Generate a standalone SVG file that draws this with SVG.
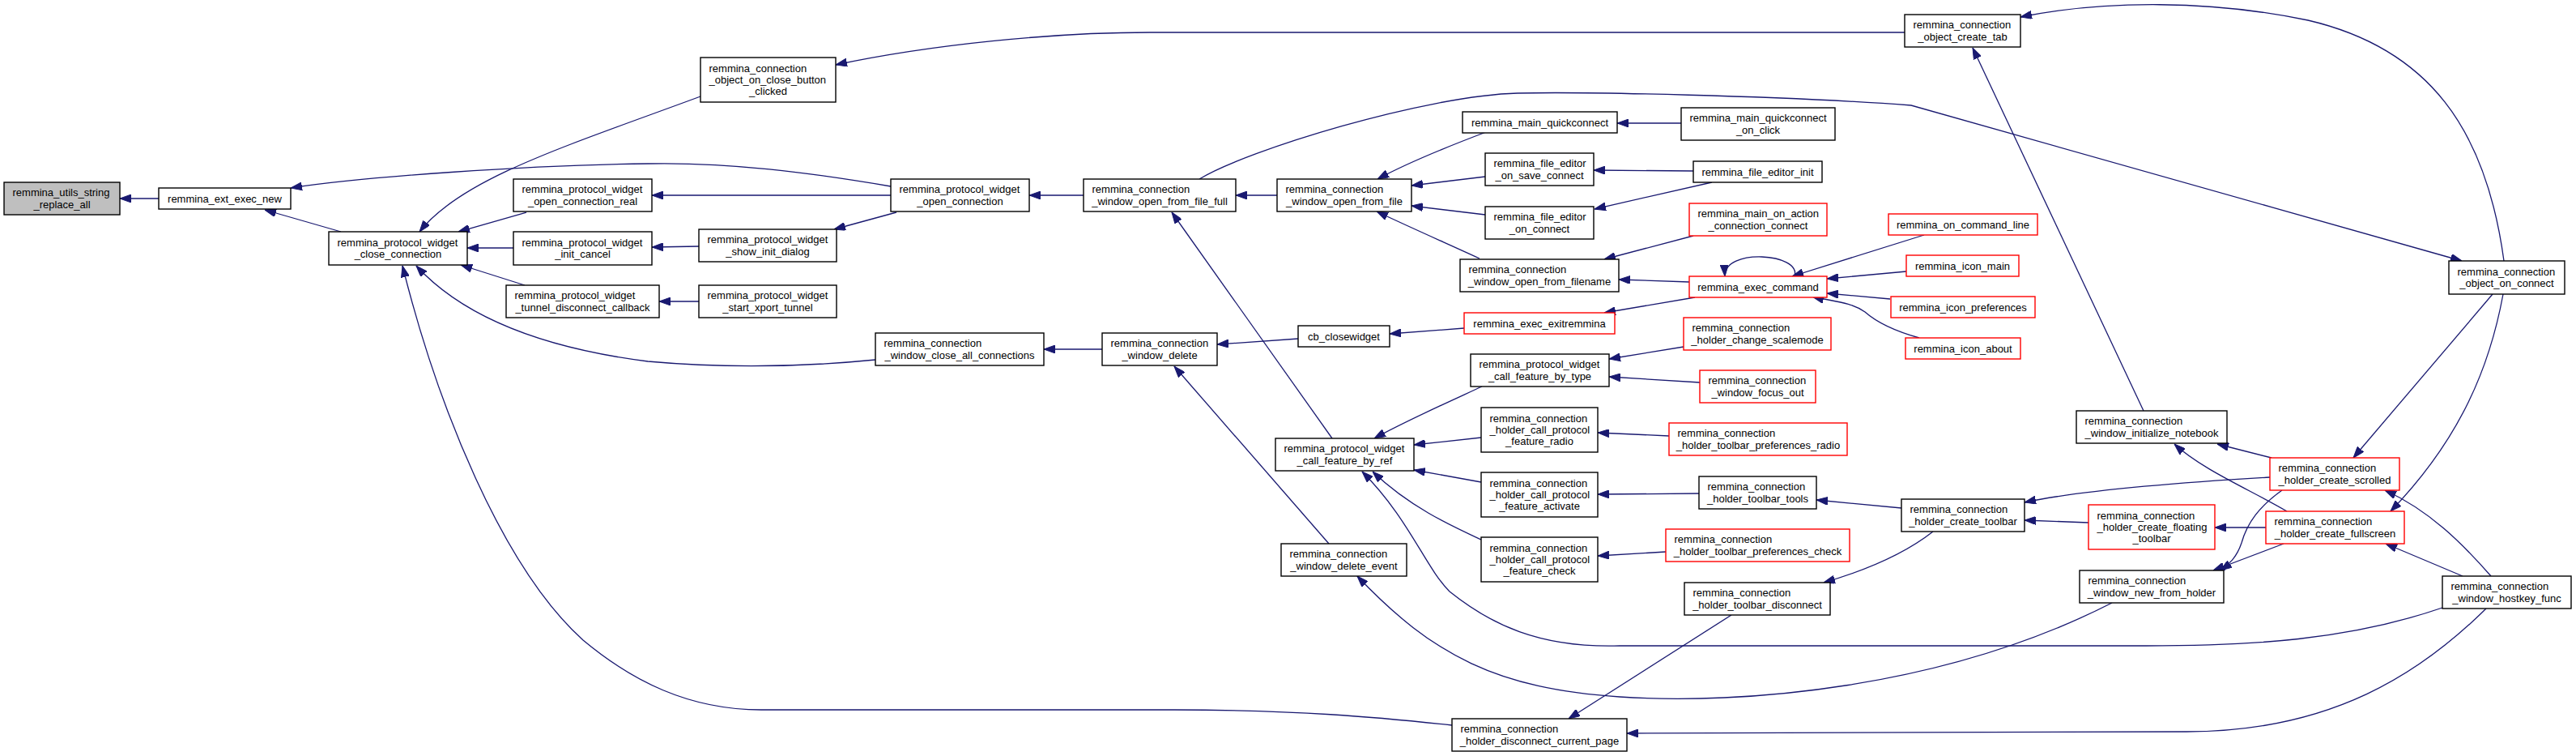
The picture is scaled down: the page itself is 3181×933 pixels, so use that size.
<svg xmlns="http://www.w3.org/2000/svg" width="3181" height="933" viewBox="0 0 3181 933">
<style>
rect{fill:#fff;stroke:#000;stroke-width:1.4}
rect.r{stroke:#ff0000}
rect.g{fill:#bfbfbf}
text{font-family:"Liberation Sans",Arial,sans-serif;font-size:13px;fill:#000}
text.c{text-anchor:middle}
.e path{fill:none;stroke:#191970;stroke-width:1.3;marker-end:url(#a)}
</style>
<defs>
<marker id="a" viewBox="0 0 14 10" refX="14" refY="5" markerWidth="14" markerHeight="10" markerUnits="userSpaceOnUse" orient="auto">
<path d="M0,0 L14,5 L0,10 z" fill="#191970" stroke="#191970" stroke-width="1"/>
</marker>
</defs>
<rect x="0" y="0" width="3181" height="933" style="fill:#fff;stroke:none"/>
<g class="e" id="edges">
<path d="M196,245 L148,245"/>
<path d="M421,286 L327,259"/>
<path d="M1100,230 C1000,213 900,200 800,202 C650,204 450,218 359,232"/>
<path d="M650,262 L566,286"/>
<path d="M634,306 L577,306"/>
<path d="M648,352 L569,327"/>
<path d="M865,119 C700,180 570,220 518,286"/>
<path d="M1081,444 C1000,452 900,455 800,446 C690,432 580,400 514,328"/>
<path d="M1793,895 C1700,885 1600,876 1450,876 L940,876 C850,876 780,840 720,790 C620,700 540,500 497,328"/>
<path d="M1100,241 L805,241"/>
<path d="M863,304 L805,305"/>
<path d="M1107,262 L1030,283"/>
<path d="M863,372 L814,372"/>
<path d="M1338,241 L1271,241"/>
<path d="M2352,40 L1420,40 C1300,40 1150,55 1032,80"/>
<path d="M1577,241 L1526,241"/>
<path d="M1481,221 C1540,185 1760,118 1874,115 C1950,113 2200,118 2360,130 L3040,322"/>
<path d="M1835,163 C1790,180 1740,200 1701,221"/>
<path d="M1834,218 L1743,229"/>
<path d="M1834,265 L1743,254"/>
<path d="M1827,319 C1790,302 1740,280 1700,261"/>
<path d="M2076,152 L1997,152"/>
<path d="M2091,211 L1968,210"/>
<path d="M2114,225 L1969,258"/>
<path d="M2091,291 L1981,320"/>
<path d="M2086,348 L1999,345"/>
<path d="M2216,341 C2225,312 2128,306 2130,341"/>
<path d="M2093,367 L1981,386"/>
<path d="M2376,290 L2213,341"/>
<path d="M2354,335 L2256,344"/>
<path d="M2334,369 L2256,362"/>
<path d="M2370,417 C2345,410 2320,400 2303,385 C2285,372 2262,372 2238,366"/>
<path d="M1808,405 L1716,412"/>
<path d="M1603,418 L1503,425"/>
<path d="M1361,431 L1289,431"/>
<path d="M1641,671 L1450,452"/>
<path d="M1645,541 L1447,262"/>
<path d="M1830,477 C1780,500 1735,520 1697,541"/>
<path d="M1829,540 L1746,549"/>
<path d="M1829,595 L1746,580"/>
<path d="M1829,666 C1790,648 1740,625 1695,582"/>
<path d="M3016,750 C2900,790 2780,797 2650,797 L2000,797 C1900,800 1840,770 1790,730 C1760,700 1740,640 1682,582"/>
<path d="M2608,744 C2400,850 2150,870 2000,860 C1850,850 1770,810 1676,711"/>
<path d="M2079,428 L1987,443"/>
<path d="M2099,472 L1987,465"/>
<path d="M2061,538 L1973,534"/>
<path d="M2098,609 L1973,610"/>
<path d="M2057,681 L1973,686"/>
<path d="M2348,627 L2243,617"/>
<path d="M2387,656 C2350,685 2300,705 2252,719"/>
<path d="M2138,759 L1937,887"/>
<path d="M3070,751 C2990,830 2880,903 2700,903 L2009,905"/>
<path d="M2803,589 C2700,595 2570,605 2500,620"/>
<path d="M2579,645 L2500,642"/>
<path d="M2798,651 L2735,651"/>
<path d="M2805,565 L2738,548"/>
<path d="M2824,631 C2780,605 2720,580 2685,548"/>
<path d="M2820,671 L2733,704"/>
<path d="M2818,605 C2790,625 2775,645 2768,670 C2762,688 2752,697 2742,704"/>
<path d="M3041,711 L2946,671"/>
<path d="M3076,711 C3040,670 3000,630 2945,605"/>
<path d="M3078,363 L2906,565"/>
<path d="M3091,363 C3075,450 3040,540 2952,631"/>
<path d="M3092,322 C3070,160 3000,60 2850,25 C2730,0 2600,0 2495,21"/>
<path d="M2647,507 L2436,59"/>
</g>
<g id="n1"><rect class="g" x="5" y="225" width="143" height="40"/><text x="15.5" y="242.4">remmina_utils_string</text><text class="c" x="76.5" y="256.7">_replace_all</text></g>
<g id="n2"><rect x="196" y="232" width="163" height="26"/><text class="c" x="277.5" y="249.5">remmina_ext_exec_new</text></g>
<g id="n3"><rect x="406" y="286" width="171" height="41"/><text x="416.5" y="303.9">remmina_protocol_widget</text><text class="c" x="491.5" y="318.2">_close_connection</text></g>
<g id="n4"><rect x="634" y="221" width="171" height="40"/><text x="644.5" y="238.4">remmina_protocol_widget</text><text class="c" x="719.5" y="252.7">_open_connection_real</text></g>
<g id="n5"><rect x="634" y="286" width="171" height="41"/><text x="644.5" y="303.9">remmina_protocol_widget</text><text class="c" x="719.5" y="318.2">_init_cancel</text></g>
<g id="n6"><rect x="625" y="352" width="189" height="40"/><text x="635.5" y="369.4">remmina_protocol_widget</text><text class="c" x="719.5" y="383.7">_tunnel_disconnect_callback</text></g>
<g id="n7"><rect x="865" y="71" width="167" height="55"/><text x="875.5" y="88.7">remmina_connection</text><text x="875.5" y="103">_object_on_close_button</text><text class="c" x="948.5" y="117.3">_clicked</text></g>
<g id="n8"><rect x="1100" y="221" width="171" height="40"/><text x="1110.5" y="238.4">remmina_protocol_widget</text><text class="c" x="1185.5" y="252.7">_open_connection</text></g>
<g id="n9"><rect x="863" y="283" width="170" height="40"/><text x="873.5" y="300.4">remmina_protocol_widget</text><text class="c" x="948" y="314.7">_show_init_dialog</text></g>
<g id="n10"><rect x="863" y="352" width="170" height="40"/><text x="873.5" y="369.4">remmina_protocol_widget</text><text class="c" x="948" y="383.7">_start_xport_tunnel</text></g>
<g id="n11"><rect x="1081" y="411" width="208" height="40"/><text x="1091.5" y="428.4">remmina_connection</text><text class="c" x="1185" y="442.7">_window_close_all_connections</text></g>
<g id="n12"><rect x="1361" y="411" width="142" height="40"/><text x="1371.5" y="428.4">remmina_connection</text><text class="c" x="1432" y="442.7">_window_delete</text></g>
<g id="n13"><rect x="1338" y="221" width="188" height="40"/><text x="1348.5" y="238.4">remmina_connection</text><text class="c" x="1432" y="252.7">_window_open_from_file_full</text></g>
<g id="n14"><rect x="1577" y="221" width="166" height="40"/><text x="1587.5" y="238.4">remmina_connection</text><text class="c" x="1660" y="252.7">_window_open_from_file</text></g>
<g id="n15"><rect x="1806" y="138" width="191" height="26"/><text class="c" x="1901.5" y="155.5">remmina_main_quickconnect</text></g>
<g id="n16"><rect x="2076" y="133" width="190" height="40"/><text x="2086.5" y="150.4">remmina_main_quickconnect</text><text class="c" x="2171" y="164.7">_on_click</text></g>
<g id="n17"><rect x="1834" y="189" width="134" height="40"/><text x="1844.5" y="206.4">remmina_file_editor</text><text class="c" x="1901" y="220.7">_on_save_connect</text></g>
<g id="n18"><rect x="2091" y="199" width="159" height="26"/><text class="c" x="2170.5" y="216.5">remmina_file_editor_init</text></g>
<g id="n19"><rect x="1834" y="255" width="134" height="40"/><text x="1844.5" y="272.4">remmina_file_editor</text><text class="c" x="1901" y="286.7">_on_connect</text></g>
<g id="n20"><rect class="r" x="2086" y="251" width="170" height="40"/><text x="2096.5" y="268.4">remmina_main_on_action</text><text class="c" x="2171" y="282.7">_connection_connect</text></g>
<g id="n21"><rect x="1803" y="320" width="196" height="40"/><text x="1813.5" y="337.4">remmina_connection</text><text class="c" x="1901" y="351.7">_window_open_from_filename</text></g>
<g id="n22"><rect class="r" x="2086" y="341" width="170" height="26"/><text class="c" x="2171" y="358.5">remmina_exec_command</text></g>
<g id="n23"><rect class="r" x="1808" y="386" width="186" height="26"/><text class="c" x="1901" y="403.5">remmina_exec_exitremmina</text></g>
<g id="n24"><rect x="1603" y="402" width="113" height="26"/><text class="c" x="1659.5" y="419.5">cb_closewidget</text></g>
<g id="n25"><rect class="r" x="2079" y="392" width="182" height="40"/><text x="2089.5" y="409.4">remmina_connection</text><text class="c" x="2170" y="423.7">_holder_change_scalemode</text></g>
<g id="n26"><rect x="1816" y="437" width="171" height="40"/><text x="1826.5" y="454.4">remmina_protocol_widget</text><text class="c" x="1901.5" y="468.7">_call_feature_by_type</text></g>
<g id="n27"><rect class="r" x="2099" y="457" width="143" height="40"/><text x="2109.5" y="474.4">remmina_connection</text><text class="c" x="2170.5" y="488.7">_window_focus_out</text></g>
<g id="n28"><rect x="2352" y="18" width="143" height="40"/><text x="2362.5" y="35.4">remmina_connection</text><text class="c" x="2423.5" y="49.7">_object_create_tab</text></g>
<g id="n29"><rect class="r" x="2332" y="264" width="184" height="26"/><text class="c" x="2424" y="281.5">remmina_on_command_line</text></g>
<g id="n30"><rect class="r" x="2354" y="315" width="139" height="26"/><text class="c" x="2423.5" y="332.5">remmina_icon_main</text></g>
<g id="n31"><rect class="r" x="2335" y="366" width="178" height="26"/><text class="c" x="2424" y="383.5">remmina_icon_preferences</text></g>
<g id="n32"><rect class="r" x="2353" y="417" width="142" height="26"/><text class="c" x="2424" y="434.5">remmina_icon_about</text></g>
<g id="n33"><rect x="3024" y="322" width="143" height="41"/><text x="3034.5" y="339.9">remmina_connection</text><text class="c" x="3095.5" y="354.2">_object_on_connect</text></g>
<g id="n34"><rect x="1575" y="541" width="171" height="40"/><text x="1585.5" y="558.4">remmina_protocol_widget</text><text class="c" x="1660.5" y="572.7">_call_feature_by_ref</text></g>
<g id="n35"><rect x="1829" y="503" width="144" height="55"/><text x="1839.5" y="520.7">remmina_connection</text><text x="1839.5" y="535">_holder_call_protocol</text><text class="c" x="1901" y="549.3">_feature_radio</text></g>
<g id="n36"><rect x="1829" y="583" width="144" height="55"/><text x="1839.5" y="600.7">remmina_connection</text><text x="1839.5" y="615">_holder_call_protocol</text><text class="c" x="1901" y="629.3">_feature_activate</text></g>
<g id="n37"><rect x="1829" y="663" width="144" height="55"/><text x="1839.5" y="680.7">remmina_connection</text><text x="1839.5" y="695">_holder_call_protocol</text><text class="c" x="1901" y="709.3">_feature_check</text></g>
<g id="n38"><rect class="r" x="2061" y="522" width="220" height="40"/><text x="2071.5" y="539.4">remmina_connection</text><text class="c" x="2171" y="553.7">_holder_toolbar_preferences_radio</text></g>
<g id="n39"><rect x="2098" y="588" width="145" height="40"/><text x="2108.5" y="605.4">remmina_connection</text><text class="c" x="2170.5" y="619.7">_holder_toolbar_tools</text></g>
<g id="n40"><rect class="r" x="2057" y="653" width="227" height="40"/><text x="2067.5" y="670.4">remmina_connection</text><text class="c" x="2170.5" y="684.7">_holder_toolbar_preferences_check</text></g>
<g id="n41"><rect x="1582" y="671" width="155" height="40"/><text x="1592.5" y="688.4">remmina_connection</text><text class="c" x="1659.5" y="702.7">_window_delete_event</text></g>
<g id="n42"><rect x="2080" y="719" width="180" height="40"/><text x="2090.5" y="736.4">remmina_connection</text><text class="c" x="2170" y="750.7">_holder_toolbar_disconnect</text></g>
<g id="n43"><rect x="1793" y="887" width="216" height="40"/><text x="1803.5" y="904.4">remmina_connection</text><text class="c" x="1901" y="918.7">_holder_disconnect_current_page</text></g>
<g id="n44"><rect x="2348" y="616" width="152" height="40"/><text x="2358.5" y="633.4">remmina_connection</text><text class="c" x="2424" y="647.7">_holder_create_toolbar</text></g>
<g id="n45"><rect x="2564" y="507" width="186" height="40"/><text x="2574.5" y="524.4">remmina_connection</text><text class="c" x="2657" y="538.7">_window_initialize_notebook</text></g>
<g id="n46"><rect class="r" x="2803" y="565" width="160" height="40"/><text x="2813.5" y="582.4">remmina_connection</text><text class="c" x="2883" y="596.7">_holder_create_scrolled</text></g>
<g id="n47"><rect class="r" x="2579" y="623" width="156" height="55"/><text x="2589.5" y="640.7">remmina_connection</text><text x="2589.5" y="655">_holder_create_floating</text><text class="c" x="2657" y="669.3">_toolbar</text></g>
<g id="n48"><rect class="r" x="2798" y="631" width="171" height="40"/><text x="2808.5" y="648.4">remmina_connection</text><text class="c" x="2883.5" y="662.7">_holder_create_fullscreen</text></g>
<g id="n49"><rect x="2568" y="704" width="178" height="40"/><text x="2578.5" y="721.4">remmina_connection</text><text class="c" x="2657" y="735.7">_window_new_from_holder</text></g>
<g id="n50"><rect x="3016" y="711" width="159" height="40"/><text x="3026.5" y="728.4">remmina_connection</text><text class="c" x="3095.5" y="742.7">_window_hostkey_func</text></g>
</svg>
